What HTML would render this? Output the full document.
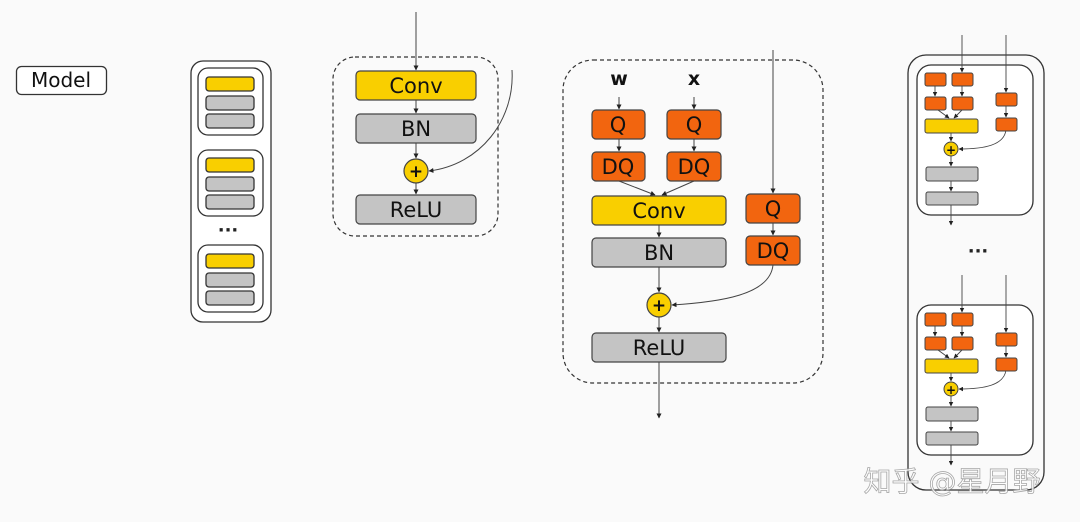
<!DOCTYPE html>
<html><head><meta charset="utf-8"><style>
html,body{margin:0;padding:0;background:#fafafa;}
svg{display:block;}
text{font-family:"DejaVu Sans","Liberation Sans",sans-serif;}
</style></head><body>
<svg width="1080" height="522" viewBox="0 0 1080 522" xmlns="http://www.w3.org/2000/svg">
<defs>
<marker id="s" viewBox="0 0 10 10" refX="9" refY="5" markerWidth="5" markerHeight="5" orient="auto"><path d="M0,0 L10,5 L0,10 z" fill="#222"/></marker>
</defs>
<rect width="1080" height="522" fill="#fafafa"/>

<!-- Model -->
<rect x="16.5" y="66.5" width="90" height="28" rx="5" fill="#fff" stroke="#333" stroke-width="1.3"/>
<text x="61" y="87" font-size="20" text-anchor="middle" fill="#111">Model</text>

<!-- left column -->
<g stroke="#333" stroke-width="1.3">
<rect x="191" y="61" width="80" height="261" rx="12" fill="#fff"/>
<rect x="198" y="68" width="65" height="67" rx="10" fill="#fff"/>
<rect x="198" y="150" width="65" height="66" rx="10" fill="#fff"/>
<rect x="198" y="245" width="65" height="67" rx="10" fill="#fff"/>
<rect x="206" y="77" width="48" height="14" rx="3" fill="#f9cf00"/>
<rect x="206" y="96" width="48" height="14" rx="3" fill="#c4c4c4"/>
<rect x="206" y="114" width="48" height="14" rx="3" fill="#c4c4c4"/>
<rect x="206" y="158" width="48" height="14" rx="3" fill="#f9cf00"/>
<rect x="206" y="177" width="48" height="14" rx="3" fill="#c4c4c4"/>
<rect x="206" y="195" width="48" height="14" rx="3" fill="#c4c4c4"/>
<rect x="206" y="254" width="48" height="14" rx="3" fill="#f9cf00"/>
<rect x="206" y="273" width="48" height="14" rx="3" fill="#c4c4c4"/>
<rect x="206" y="291" width="48" height="14" rx="3" fill="#c4c4c4"/>
</g>
<text x="228" y="236" font-size="18" font-weight="bold" text-anchor="middle" fill="#222">···</text>

<!-- middle block -->
<rect x="333" y="57" width="165" height="179" rx="22" fill="none" stroke="#333" stroke-width="1.2" stroke-dasharray="4,3"/>
<g stroke="#444" stroke-width="1" fill="none">
<line x1="416" y1="12" x2="416" y2="70" marker-end="url(#s)"/>
<line x1="416" y1="100" x2="416" y2="113" marker-end="url(#s)"/>
<line x1="416" y1="143" x2="416" y2="158" marker-end="url(#s)"/>
<line x1="416" y1="183" x2="416" y2="194" marker-end="url(#s)"/>
<path d="M512,70 C515,120 480,165 429,171" marker-end="url(#s)"/>
</g>
<g stroke="#444" stroke-width="1.2">
<rect x="356" y="71" width="120" height="29" rx="4" fill="#f9cf00"/>
<rect x="356" y="114" width="120" height="29" rx="4" fill="#c4c4c4"/>
<rect x="356" y="195" width="120" height="29" rx="4" fill="#c4c4c4"/>
<circle cx="416" cy="171" r="12" fill="#f9cf00"/>
</g>
<g font-size="21" text-anchor="middle" fill="#111">
<text x="416" y="93">Conv</text><text x="416" y="136">BN</text><text x="416" y="217">ReLU</text>
</g>
<text x="416" y="177" font-size="17" font-weight="bold" text-anchor="middle" fill="#111">+</text>

<!-- big block -->
<rect x="563" y="60" width="260" height="323" rx="30" fill="none" stroke="#333" stroke-width="1.2" stroke-dasharray="4,3"/>
<g font-size="19" font-weight="bold" text-anchor="middle" fill="#111"><text x="619" y="85">w</text><text x="694" y="85">x</text></g>
<g stroke="#444" stroke-width="1" fill="none">
<line x1="619" y1="97" x2="619" y2="109" marker-end="url(#s)"/>
<line x1="694" y1="97" x2="694" y2="109" marker-end="url(#s)"/>
<line x1="619" y1="139" x2="619" y2="151" marker-end="url(#s)"/>
<line x1="694" y1="139" x2="694" y2="151" marker-end="url(#s)"/>
<line x1="619" y1="181" x2="655" y2="195" marker-end="url(#s)"/>
<line x1="694" y1="181" x2="662" y2="195" marker-end="url(#s)"/>
<line x1="659" y1="225" x2="659" y2="237" marker-end="url(#s)"/>
<line x1="659" y1="267" x2="659" y2="292" marker-end="url(#s)"/>
<line x1="659" y1="317" x2="659" y2="332" marker-end="url(#s)"/>
<line x1="659" y1="362" x2="659" y2="418" marker-end="url(#s)"/>
<line x1="773" y1="50" x2="773" y2="193" marker-end="url(#s)"/>
<line x1="773" y1="223" x2="773" y2="235" marker-end="url(#s)"/>
<path d="M773,265 C770,295 720,302 672,305" marker-end="url(#s)"/>
</g>
<g stroke="#444" stroke-width="1.2">
<rect x="592" y="110" width="53" height="29" rx="4" fill="#f2650f"/>
<rect x="667" y="110" width="54" height="29" rx="4" fill="#f2650f"/>
<rect x="592" y="152" width="53" height="29" rx="4" fill="#f2650f"/>
<rect x="667" y="152" width="54" height="29" rx="4" fill="#f2650f"/>
<rect x="746" y="194" width="54" height="29" rx="4" fill="#f2650f"/>
<rect x="746" y="236" width="54" height="29" rx="4" fill="#f2650f"/>
<rect x="592" y="196" width="134" height="29" rx="4" fill="#f9cf00"/>
<rect x="592" y="238" width="134" height="29" rx="4" fill="#c4c4c4"/>
<rect x="592" y="333" width="134" height="29" rx="4" fill="#c4c4c4"/>
<circle cx="659" cy="305" r="12" fill="#f9cf00"/>
</g>
<g font-size="21" text-anchor="middle" fill="#111">
<text x="618" y="132">Q</text><text x="694" y="132">Q</text>
<text x="618" y="174">DQ</text><text x="694" y="174">DQ</text>
<text x="773" y="216">Q</text><text x="773" y="258">DQ</text>
<text x="659" y="218">Conv</text><text x="659" y="260">BN</text><text x="659" y="355">ReLU</text>
</g>
<text x="659" y="311" font-size="17" font-weight="bold" text-anchor="middle" fill="#111">+</text>

<!-- right column -->
<rect x="908" y="55" width="136" height="435" rx="18" fill="none" stroke="#333" stroke-width="1.3"/>
<text x="978" y="257" font-size="18" font-weight="bold" text-anchor="middle" fill="#222">···</text>
<g id="blk">
<rect x="917" y="65" width="116" height="150" rx="14" fill="#fff" stroke="#333" stroke-width="1.3"/>
<g stroke="#444" stroke-width="0.9" fill="none">
<line x1="962" y1="35" x2="962" y2="72" marker-end="url(#s)"/>
<line x1="1006" y1="35" x2="1006" y2="92" marker-end="url(#s)"/>
<line x1="935" y1="86" x2="935" y2="96" marker-end="url(#s)"/>
<line x1="962" y1="86" x2="962" y2="96" marker-end="url(#s)"/>
<line x1="1006" y1="106" x2="1006" y2="117" marker-end="url(#s)"/>
<line x1="938" y1="110" x2="949" y2="118" marker-end="url(#s)"/>
<line x1="962" y1="110" x2="954" y2="118" marker-end="url(#s)"/>
<line x1="951" y1="133" x2="951" y2="141" marker-end="url(#s)"/>
<line x1="951" y1="156" x2="951" y2="166" marker-end="url(#s)"/>
<line x1="951" y1="181" x2="951" y2="191" marker-end="url(#s)"/>
<line x1="951" y1="205" x2="951" y2="225" marker-end="url(#s)"/>
<path d="M1006,130 C1004,145 985,149 959,149" marker-end="url(#s)"/>
</g>
<g stroke="#444" stroke-width="1">
<rect x="925" y="73" width="21" height="13" rx="2" fill="#f2650f"/>
<rect x="952" y="73" width="21" height="13" rx="2" fill="#f2650f"/>
<rect x="925" y="97" width="21" height="13" rx="2" fill="#f2650f"/>
<rect x="952" y="97" width="21" height="13" rx="2" fill="#f2650f"/>
<rect x="996" y="93" width="21" height="13" rx="2" fill="#f2650f"/>
<rect x="996" y="118" width="21" height="13" rx="2" fill="#f2650f"/>
<rect x="925" y="119" width="53" height="14" rx="2" fill="#f9cf00"/>
<rect x="926" y="167" width="52" height="14" rx="2" fill="#c4c4c4"/>
<rect x="926" y="192" width="52" height="13" rx="2" fill="#c4c4c4"/>
<circle cx="951" cy="149" r="7" fill="#f9cf00"/>
</g>
<text x="951" y="154" font-size="12" text-anchor="middle" fill="#111" font-weight="bold">+</text>
</g>
<use href="#blk" transform="translate(0,240)"/>

<text x="952" y="491" font-size="28" text-anchor="middle" fill="#fff" stroke="#999" stroke-width="0.8" font-family="'Noto Sans CJK SC',sans-serif" opacity="0.85">知乎 @星月野</text>
</svg>
</body></html>
